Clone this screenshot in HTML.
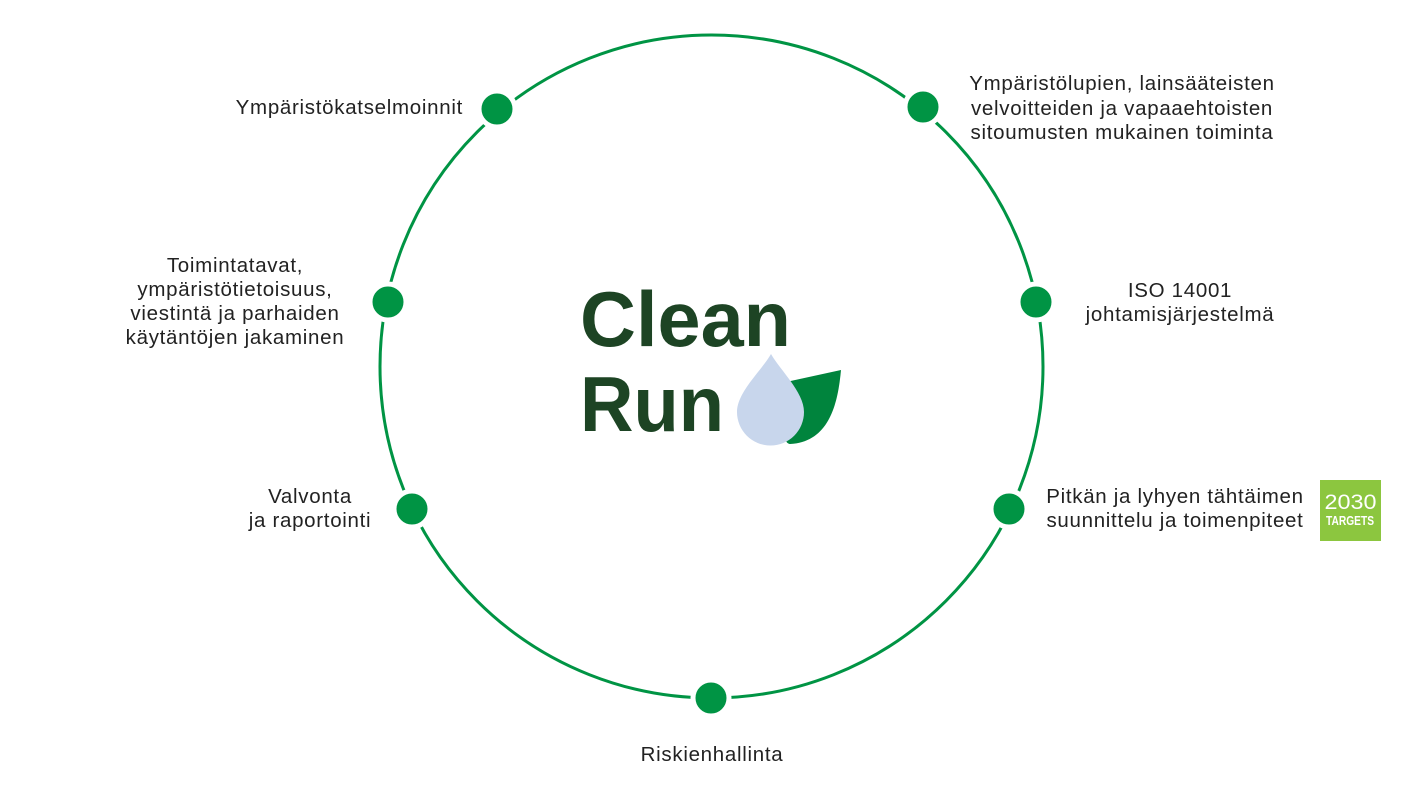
<!DOCTYPE html>
<html>
<head>
<meta charset="utf-8">
<style>
  html, body { margin:0; padding:0; background:#ffffff; }
  body { width:1424px; height:801px; overflow:hidden; }
  svg { display:block; }
  .t { font-family:"Liberation Sans", "DejaVu Sans", sans-serif; font-size:20.5px; letter-spacing:0.7px; fill:#222222; }
</style>
</head>
<body>
<svg width="1424" height="801" viewBox="0 0 1424 801" xmlns="http://www.w3.org/2000/svg">
  <!-- main circle -->
  <circle cx="711.5" cy="366.5" r="331.5" fill="none" stroke="#009444" stroke-width="3"/>

  <!-- dots with white gap ring -->
  <g fill="#009444" stroke="#ffffff" stroke-width="5">
    <circle cx="497" cy="109" r="18"/>
    <circle cx="923" cy="107" r="18"/>
    <circle cx="388" cy="302" r="18"/>
    <circle cx="1036" cy="302" r="18"/>
    <circle cx="412" cy="509" r="18"/>
    <circle cx="1009" cy="509" r="18"/>
    <circle cx="711" cy="698" r="18"/>
  </g>

  <!-- labels -->
  <text class="t" x="463" y="114" text-anchor="end">Ympäristökatselmoinnit</text>

  <g text-anchor="middle">
    <text class="t" x="1122" y="90">Ympäristölupien, lainsääteisten</text>
    <text class="t" x="1122" y="115">velvoitteiden ja vapaaehtoisten</text>
    <text class="t" x="1122" y="139">sitoumusten mukainen toiminta</text>

    <text class="t" x="235" y="272">Toimintatavat,</text>
    <text class="t" x="235" y="296">ympäristötietoisuus,</text>
    <text class="t" x="235" y="320">viestintä ja parhaiden</text>
    <text class="t" x="235" y="344">käytäntöjen jakaminen</text>

    <text class="t" x="1180" y="297">ISO 14001</text>
    <text class="t" x="1180" y="321">johtamisjärjestelmä</text>

    <text class="t" x="310" y="503">Valvonta</text>
    <text class="t" x="310" y="527">ja raportointi</text>

    <text class="t" x="1175" y="503">Pitkän ja lyhyen tähtäimen</text>
    <text class="t" x="1175" y="527">suunnittelu ja toimenpiteet</text>

    <text class="t" x="712" y="761">Riskienhallinta</text>
  </g>

  <!-- 2030 targets badge -->
  <rect x="1320" y="480" width="61" height="61" fill="#8cc63f"/>
  <text x="1350.5" y="509" text-anchor="middle" font-family="Liberation Sans, sans-serif" font-size="21" fill="#ffffff" textLength="52" lengthAdjust="spacingAndGlyphs">2030</text>
  <text x="1350" y="525" text-anchor="middle" font-family="Liberation Sans, sans-serif" font-weight="bold" font-size="12.5" fill="#ffffff" textLength="48" lengthAdjust="spacingAndGlyphs">TARGETS</text>

  <!-- Clean Run logo -->
  <text x="580" y="346" font-family="Liberation Sans, sans-serif" font-weight="bold" font-size="78" fill="#1d4424" textLength="211" lengthAdjust="spacingAndGlyphs">Clean</text>
  <text x="580" y="431" font-family="Liberation Sans, sans-serif" font-weight="bold" font-size="78" fill="#1d4424" textLength="144" lengthAdjust="spacingAndGlyphs">Run</text>

  <!-- leaf -->
  <path d="M 786 382 L 841 370 C 838 402, 830 442, 790 444 C 780 444, 782 405, 786 382 Z" fill="#00843d"/>
  <!-- drop -->
  <path d="M 771 354 C 762 370, 737 392, 737 412 A 33.5 33.5 0 0 0 804 412 C 804 392, 780 370, 771 354 Z" fill="#c8d6ec"/>
</svg>
</body>
</html>
